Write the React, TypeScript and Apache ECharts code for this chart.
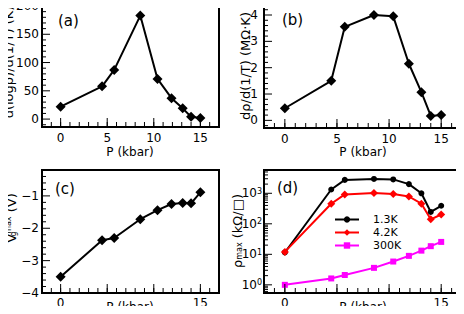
import React, { useEffect, useRef } from "react";
import * as echarts from "echarts";

const FONT = "DejaVu Sans";

const pressure = [0, 4.45, 5.75, 8.55, 10.4, 11.9, 13.1, 14.0, 15.0];
const dLogRho = [22, 58, 87, 183, 71, 37, 19, 4, 2];
const dRho = [0.46, 1.5, 3.55, 4.0, 3.95, 2.15, 1.07, 0.17, 0.2];
const vgMax = [-3.5, -2.37, -2.3, -1.72, -1.44, -1.25, -1.22, -1.23, -0.89];
const rho13K = [11.5, 1330, 2750, 2950, 2850, 2000, 1000, 245, 390];
const rho42K = [12, 455, 920, 1020, 950, 785, 455, 140, 202];
const rho300K = [1.0, 1.62, 2.1, 3.6, 5.8, 8.9, 13.2, 18.5, 25.5];

const xMajor = [0, 5, 10, 15];
const xMinor = [-1, 0, 1, 2, 3, 4, 5, 6, 7, 8, 9, 10, 11, 12, 13, 14, 15, 16];
const xLabelsTop = [0, 5, 10, 15];
const xLabelsBottom = [0, 15];
const aTicks = [0, 50, 100, 150, 200];
const aMinor = [-10, 10, 20, 30, 40, 60, 70, 80, 90, 110, 120, 130, 140, 160, 170, 180, 190];
const bTicks = [0, 1, 2, 3, 4];
const bMinor = [-0.2, 0.2, 0.4, 0.6, 0.8, 1.2, 1.4, 1.6, 1.8, 2.2, 2.4, 2.6, 2.8, 3.2, 3.4, 3.6, 3.8, 4.2];
const cTicks = [-4, -3, -2, -1];
const cMinor = [-3.8, -3.6, -3.4, -3.2, -2.8, -2.6, -2.4, -2.2, -1.8, -1.6, -1.4, -1.2, -0.8, -0.6, -0.4];
const dTicks = [1, 10, 100, 1000];
const dMinor = [0.6, 0.7, 0.8, 0.9, 2, 3, 4, 5, 6, 7, 8, 9, 20, 30, 40, 50, 60, 70, 80, 90, 200, 300, 400, 500, 600, 700, 800, 900, 2000, 3000, 4000, 5000];
const panelLabels = ["(a)", "(b)", "(c)", "(d)"];
const yNames = [
  "d(logρ)/d(1/T) (K)",
  "dρ/d(1/T) (MΩ·K)",
  "{b|V}{g|g}{m|max}{b| (V)}",
  "{b|ρ}{s|max}{b| (kΩ/□)}",
];
const xName = "P (kbar)";
const legendNames = ["1.3K", "4.2K", "300K"];

const minus = (v: number) => (v < 0 ? "\u2212" + Math.abs(v) : String(v));
const only = (list: number[], fmt: (v: number) => string = String) => (v: number) =>
  list.some((t) => Math.abs(t - v) < 1e-9) ? fmt(v) : "";

const panels = [
  { xMin: -2, xMax: 17, yMin: -14, yMax: 200, yMajor: aTicks, yMinor: aMinor },
  { xMin: -2, xMax: 16.9, yMin: -0.29, yMax: 4.38, yMajor: bTicks, yMinor: bMinor },
  { xMin: -2, xMax: 17, yMin: -4, yMax: -0.2, yMajor: cTicks, yMinor: cMinor },
  { xMin: -2, xMax: 16.9, yMin: 0.54, yMax: 5800, yMajor: dTicks, yMinor: dMinor },
];

function xAxis(g: number, labels: number[], margin: number) {
  const p = panels[g];
  return {
    type: "value", gridIndex: g, min: p.xMin, max: p.xMax, position: "bottom", splitNumber: 4,
    axisLine: { show: false, onZero: false },
    axisTick: { show: false },
    axisLabel: { show: true, margin, color: "#000", fontSize: 12, fontFamily: FONT, formatter: only(labels) },
    splitLine: { show: false },
  };
}

function yAxis(g: number, extra: any, label: any) {
  const p = panels[g];
  return Object.assign({
    type: "value", gridIndex: g, min: p.yMin, max: p.yMax, position: "left",
    axisLine: { show: false, onZero: false },
    axisTick: { show: false },
    axisLabel: Object.assign({ show: true, color: "#000", fontSize: 12, fontFamily: FONT }, label),
    splitLine: { show: false },
  }, extra);
}

function lineSeries(name: string | undefined, values: number[], g: number, color: string, symbol: string, size: number) {
  return {
    type: "line", name, xAxisIndex: g, yAxisIndex: g,
    data: pressure.map((p, i) => [p, values[i]]),
    symbol, symbolSize: size, showSymbol: true,
    lineStyle: { color, width: 2 },
    itemStyle: { color },
    z: 5,
  };
}

const txt = (text: string, x: number, y: number, fontSize: number, rotation = 0, rich?: any, align = "center") => ({
  type: "text", x, y, rotation, z: 20,
  style: { text, fontSize, fontFamily: FONT, fill: "#000", align, verticalAlign: "middle", rich },
});

export default function App() {
  const ref = useRef<HTMLDivElement>(null);
  useEffect(() => {
    if (!ref.current) return;
    const chart = echarts.init(ref.current, null, { renderer: "svg" });
    const option: any = {
      animation: false,
      backgroundColor: "#fff",
      textStyle: { fontFamily: FONT },
      grid: [
        { left: 42, top: 5, width: 177, height: 122 },
        { left: 264, top: 5, width: 198, height: 123 },
        { left: 42, top: 170, width: 177, height: 123 },
        { left: 264, top: 170, width: 198, height: 123 },
      ],
      xAxis: [
        xAxis(0, xLabelsTop, 5),
        xAxis(1, xLabelsTop, 5),
        xAxis(2, xLabelsBottom, 4),
        xAxis(3, xLabelsBottom, 4),
      ],
      yAxis: [
        yAxis(0, { splitNumber: 4 }, { margin: 3, formatter: only(aTicks) }),
        yAxis(1, { splitNumber: 4 }, { margin: 6, formatter: only(bTicks) }),
        yAxis(2, { interval: 1 }, { margin: 3, formatter: only(cTicks, minus) }),
        yAxis(3, { type: "log", splitNumber: 4 }, {
          margin: 2,
          formatter: (v: number) => {
            const e = Math.log10(v);
            return Math.abs(e - Math.round(e)) < 1e-6 ? "10{s|" + Math.round(e) + "}" : "";
          },
          rich: { s: { fontSize: 8, fontFamily: FONT, color: "#000", verticalAlign: "top" } },
        }),
      ],
      legend: {
        data: legendNames,
        orient: "vertical", left: 329, top: 209,
        itemWidth: 24, itemHeight: 8, itemGap: 2,
        textStyle: { fontSize: 11, fontFamily: FONT, color: "#000", padding: [0, 0, 0, 9] },
      },
      series: [
        lineSeries(undefined, dLogRho, 0, "#000", "diamond", 10),
        lineSeries(undefined, dRho, 1, "#000", "diamond", 10),
        lineSeries(undefined, vgMax, 2, "#000", "diamond", 10),
        lineSeries(legendNames[0], rho13K, 3, "#000", "circle", 6),
        lineSeries(legendNames[1], rho42K, 3, "#ff0000", "diamond", 8),
        lineSeries(legendNames[2], rho300K, 3, "#ff00ff", "rect", 6),
      ],
    };
    chart.setOption(option);

    const graphics: any[] = [];
    const tickStyle = { stroke: "#000", lineWidth: 1 };
    panels.forEach((p, g) => {
      const px = (v: number) => chart.convertToPixel({ xAxisIndex: g } as any, v) as unknown as number;
      const py = (v: number) => chart.convertToPixel({ yAxisIndex: g } as any, v) as unknown as number;
      const x0 = px(p.xMin), x1 = px(p.xMax), y0 = py(p.yMax), y1 = py(p.yMin);
      graphics.push({ type: "rect", z: 15, shape: { x: x0, y: y0, width: x1 - x0, height: y1 - y0 }, style: { fill: "none", stroke: "#000", lineWidth: 2 } });
      xMinor.forEach((t) => { const X = px(t); graphics.push({ type: "line", z: 15, shape: { x1: X, y1: y1, x2: X, y2: y1 - 5 }, style: tickStyle }); });
      xMajor.forEach((t) => { const X = px(t); graphics.push({ type: "line", z: 15, shape: { x1: X, y1: y1, x2: X, y2: y1 - 9 }, style: tickStyle }); });
      p.yMinor.forEach((t) => { const Y = py(t); graphics.push({ type: "line", z: 15, shape: { x1: x0, y1: Y, x2: x0 + 4, y2: Y }, style: tickStyle }); });
      p.yMajor.forEach((t) => { const Y = py(t); graphics.push({ type: "line", z: 15, shape: { x1: x0, y1: Y, x2: x0 + 8, y2: Y }, style: tickStyle }); });
    });

    const richC = {
      b: { fontSize: 13, fontFamily: FONT, fill: "#000", color: "#000" },
      g: { fontSize: 8, fontFamily: FONT, fill: "#000", color: "#000", width: 0, verticalAlign: "bottom" },
      m: { fontSize: 8, fontFamily: FONT, fill: "#000", color: "#000", verticalAlign: "top" },
    };
    const richD = {
      b: { fontSize: 13, fontFamily: FONT, fill: "#000", color: "#000" },
      s: { fontSize: 8, fontFamily: FONT, fill: "#000", color: "#000", verticalAlign: "bottom" },
    };
    graphics.push(
      txt(panelLabels[0], 58, 21, 15, 0, undefined, "left"),
      txt(panelLabels[1], 282, 20, 15, 0, undefined, "left"),
      txt(panelLabels[2], 55, 189, 15, 0, undefined, "left"),
      txt(panelLabels[3], 277, 188, 15, 0, undefined, "left"),
      txt(yNames[0], 8, 62, 13, Math.PI / 2),
      txt(yNames[1], 245, 66, 13, Math.PI / 2),
      txt(yNames[2], 11, 218, 13, Math.PI / 2, richC),
      txt(yNames[3], 237, 231, 13, Math.PI / 2, richD),
      txt(xName, 130, 152, 12),
      txt(xName, 363, 152, 12),
      txt(xName, 130, 307, 12),
      txt(xName, 363, 307, 12),
    );
    chart.setOption({ graphic: graphics });
    return () => chart.dispose();
  }, []);
  return <div ref={ref} style={{ width: 464, height: 314, margin: -8 }} />;
}
